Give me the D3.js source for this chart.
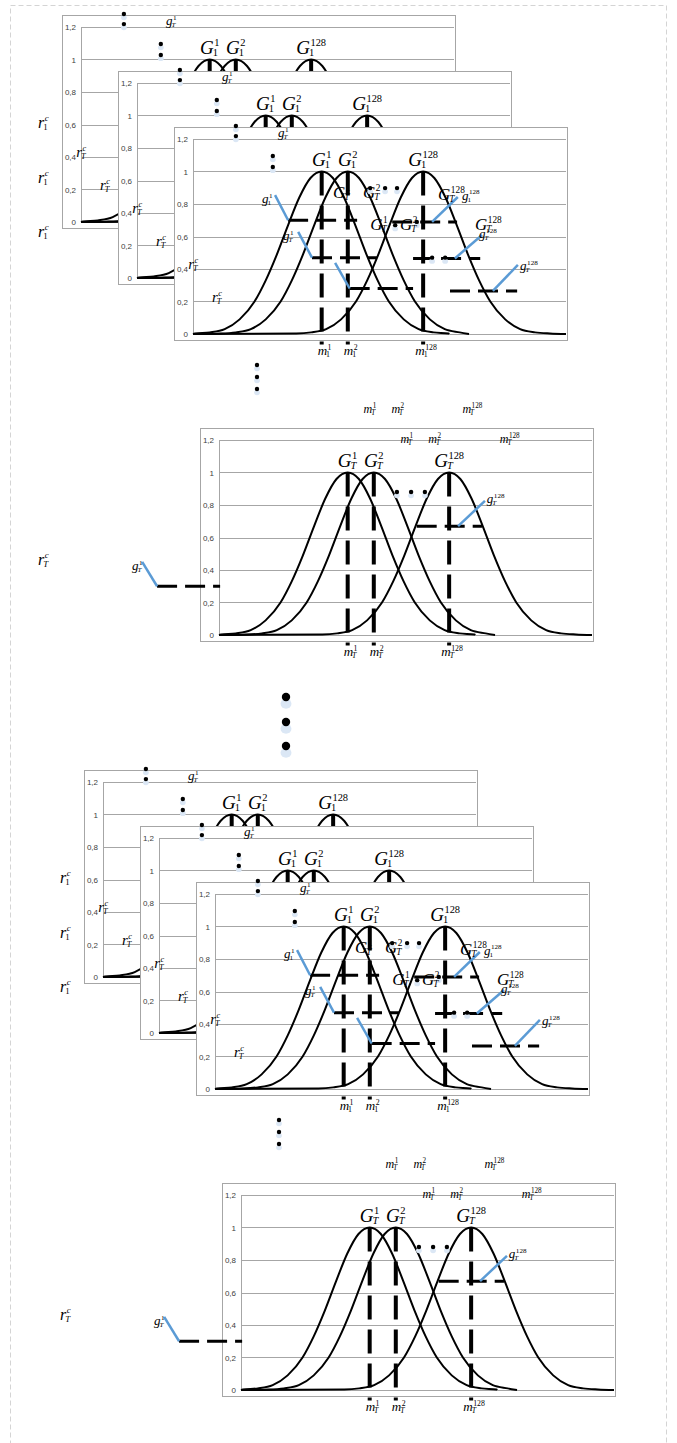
<!DOCTYPE html>
<meta charset="utf-8">
<script src="https://d3js.org/d3.v7.min.js"></script>
<body>
<div id="fig"></div>
</body>
<style>
body { margin: 0; background: #fff; }
.grid { stroke: #a6a6a6; stroke-width: 1; shape-rendering: crispEdges; }
.frame { fill: #fff; stroke: #a6a6a6; stroke-width: 1; shape-rendering: crispEdges; }
.tick-lbl { font-family: 'Liberation Sans', Arial, sans-serif; font-size: 8px; fill: #404040; text-anchor: end; }
.bell { fill: none; stroke: #000; stroke-width: 2; }
.vdash { stroke: #000; stroke-width: 4; stroke-dasharray: 24,10; }
.hdash { stroke: #000; stroke-width: 3; stroke-dasharray: 20,8; }
.ptr { stroke: #5b9bd5; stroke-width: 2.5; }
.math text { font-family: 'Liberation Serif', 'Times New Roman', serif; fill: #000; }
.glow { fill: #dbe7f5; }
</style>
<script>
// y axis of every panel
var yTicks = [0, 0.2, 0.4, 0.6, 0.8, 1, 1.2];
var yTickText = ["0", "0,2", "0,4", "0,6", "0,8", "1", "1,2"];

// the three gaussians G^1, G^2, G^128 (x in % of the axis width)
var gaussNames = ["1", "2", "128"];
var gaussMeans = [34.5, 41.5, 61.7];
var seriesEnd = [68.7, 74, 100];

// bell shape: offset from the mean -> height
var bellOffsets = [-34, -30, -26, -22, -18, -15, -12, -9, -6, -3, 0, 3, 6, 9, 12, 15, 18, 22, 26, 30, 34];
var bellValues  = [0.003, 0.01, 0.03, 0.09, 0.2, 0.33, 0.49, 0.67, 0.84, 0.96, 1, 0.96, 0.84, 0.67, 0.49, 0.33, 0.2, 0.09, 0.03, 0.01, 0.003];

// dashed g levels of the front panel: [from, to, level]
var rowsLeft  = [[25.5, 44, 0.70], [31.9, 49.3, 0.47], [42, 59, 0.28]];
var rowsRight = [[53.4, 70.8, 0.69], [59, 77, 0.465], [68.9, 86.9, 0.265]];
// blue pointers: [x1, y1, x2, y2]
var ptrLeft  = [[22, 0.855, 25.5, 0.70], [28.2, 0.628, 31.9, 0.47], [38.1, 0.437, 42, 0.28]];
var ptrRight = [[64.1, 0.69, 71, 0.843], [70.2, 0.465, 77.5, 0.609], [80.4, 0.265, 87.1, 0.425]];

// lone panel of step T
var soloRows = [[53, 70.5, 0.67], [-16.6, 0.3, 0.30]];
var soloPtr  = [[64.1, 0.67, 71.3, 0.825], [-16.6, 0.30, -20.6, 0.45]];

// annotations of the front panel (u = x %, v = y value)
var stackLabels = [
  {b: "G", sb: "T", sp: "1",   u: 37.5, v: 0.837, s: 17},
  {b: "G", sb: "T", sp: "2",   u: 45.6, v: 0.837, s: 17},
  {b: "G", sb: "T", sp: "1",   u: 47.5, v: 0.64,  s: 17},
  {b: "G", sb: "T", sp: "2",   u: 55.5, v: 0.64,  s: 17},
  {b: "G", sb: "T", sp: "128", u: 65.7, v: 0.825, s: 17},
  {b: "g", sb: "1", sp: "128", u: 72.1, v: 0.825, s: 13},
  {b: "G", sb: "T", sp: "128", u: 75.6, v: 0.64,  s: 17},
  {b: "g", sb: "T", sp: "128", u: 76.7, v: 0.59,  s: 13},
  {b: "g", sb: "T", sp: "128", u: 87.7, v: 0.394, s: 13},
  {b: "g", sb: "1", sp: "1",   u: 18.5, v: 0.806, s: 13},
  {b: "g", sb: "T", sp: "1",   u: 24.1, v: 0.578, s: 13},
  {b: "g", sb: "T", sp: "1",   u: 22.8, v: 1.212, s: 13},
  {b: "r", sb: "T", sp: "c",   u: -1.3, v: 0.40,  s: 15},
  {b: "r", sb: "T", sp: "c",   u: 5.1,  v: 0.197, s: 15}
];
var stackDots = [[11.5, 1.28], [11.5, 1.218], [21.4, 1.095], [21.4, 1.028],
  [47.5, 0.898], [51.5, 0.898], [54.7, 0.898], [54.2, 0.67], [60, 0.69],
  [64.1, 0.47], [67.6, 0.47]];

var soloLabels = [
  {b: "g", sb: "T", sp: "128", u: 71.8, v: 0.81, s: 13},
  {b: "g", sb: "T", sp: "1",   u: -23.3, v: 0.40, s: 13}
];
var soloDots = [[47.7, 0.88], [51.5, 0.88], [55.2, 0.88]];
var soloTopM = [[40.5, 48, 68], [50.4, 57.9, 78]];
var soloTopMv = [1.366, 1.18];

// layout
var W = 677, H = 1443, pw = 393, ph = 213;
var stackPos = [[62, 15], [118, 71], [174, 127]];
var soloPos = [200, 428];
var halves = [[0, 0], [22, 755]];

var svg = d3.select("#fig").append("svg").attr("width", W).attr("height", H);

svg.append("rect").attr("x", 10.5).attr("y", 5.5).attr("width", 656).attr("height", 1480)
  .attr("fill", "none").attr("stroke", "#d4d4d4").attr("stroke-dasharray", "5,3");

var x = d3.scaleLinear().domain([0, 100]).range([19, 392]);
var y = d3.scaleLinear().domain([0, 1.2]).range([207, 12]);

var bellLine = d3.line().x(function(d) { return x(d[0]); }).y(function(d) { return y(d[1]); })
  .curve(d3.curveMonotoneX);

function bellPoints(i) {
  var m = gaussMeans[i], pts = [[0, 0]];
  bellOffsets.forEach(function(o, k) {
    var u = m + o;
    if (u > 0 && u < seriesEnd[i]) pts.push([u, bellValues[k]]);
  });
  pts.push([seriesEnd[i], 0]);
  return pts;
}

function mathLabel(g, px, py, base, sb, sp, size, center, ratio) {
  var lg = g.append("g").attr("class", "math");
  var t = lg.append("text").attr("x", px).attr("y", py)
    .style("font-size", size + "px").style("font-style", "italic").text(base);
  var w = t.node().getComputedTextLength();
  var ss = size * (ratio || 0.55);
  if (sp) lg.append("text").attr("x", px + w + 0.5).attr("y", py - size * 0.42)
    .style("font-size", ss + "px").style("font-style", /\d/.test(sp) ? "normal" : "italic").text(sp);
  if (sb) lg.append("text").attr("x", px + w - 1).attr("y", py + size * 0.14)
    .style("font-size", ss + "px").style("font-style", /\d/.test(sb) ? "normal" : "italic").text(sb);
  if (center) {
    var bw = lg.node().getBBox().width;
    lg.attr("transform", "translate(" + (-bw / 2) + ",0)");
  }
  return lg;
}

function dot(g, px, py, r) {
  g.append("ellipse").attr("class", "glow").attr("cx", px).attr("cy", py + r * 1.6)
    .attr("rx", r * 1.3).attr("ry", r * 1.2);
  g.append("circle").attr("cx", px).attr("cy", py).attr("r", r).attr("fill", "#000");
}

function drawBase(g, step) {
  g.append("rect").attr("class", "frame").attr("x", 0.5).attr("y", 0.5).attr("width", pw).attr("height", ph);
  g.selectAll("line.grid").data(yTicks).join("line").attr("class", "grid")
    .attr("x1", x(0)).attr("x2", x(100))
    .attr("y1", function(d) { return Math.round(y(d)) + 0.5; })
    .attr("y2", function(d) { return Math.round(y(d)) + 0.5; });
  g.append("line").attr("class", "grid")
    .attr("x1", Math.round(x(0)) + 0.5).attr("x2", Math.round(x(0)) + 0.5)
    .attr("y1", y(0)).attr("y2", y(1.2));
  g.selectAll("text.tick-lbl").data(yTicks).join("text").attr("class", "tick-lbl")
    .attr("x", 14).attr("y", function(d) { return y(d) + 3; })
    .text(function(d, i) { return yTickText[i]; });

  gaussMeans.forEach(function(m, i) {
    g.append("path").attr("class", "bell").attr("d", bellLine(bellPoints(i)));
  });
  gaussMeans.forEach(function(m, i) {
    g.append("line").attr("class", "vdash")
      .attr("x1", x(m)).attr("x2", x(m)).attr("y1", y(1)).attr("y2", y(-0.065));
    mathLabel(g, x(m), y(1) - 6, "G", step, gaussNames[i], 19, true);
    mathLabel(g, x(m) + 3, y(-0.13), "m", step, gaussNames[i], 13, true, 0.6);
  });
}

function hRow(g, r) {
  g.append("line").attr("class", "hdash")
    .attr("x1", x(r[0])).attr("x2", x(r[1])).attr("y1", y(r[2])).attr("y2", y(r[2]));
}
function pointer(g, p) {
  g.append("line").attr("class", "ptr")
    .attr("x1", x(p[0])).attr("y1", y(p[1])).attr("x2", x(p[2])).attr("y2", y(p[3]));
}

function stackPanel(g) {
  drawBase(g, "1");
  rowsLeft.forEach(function(r) { hRow(g, r); });
  rowsRight.forEach(function(r) { hRow(g, r); });
  ptrLeft.forEach(function(p) { pointer(g, p); });
  ptrRight.forEach(function(p) { pointer(g, p); });
  stackDots.forEach(function(d) { dot(g, x(d[0]), y(d[1]), 2.2); });
  stackLabels.forEach(function(l) { mathLabel(g, x(l.u), y(l.v), l.b, l.sb, l.sp, l.s, false); });
}

function soloPanel(g) {
  drawBase(g, "T");
  soloRows.forEach(function(r) { hRow(g, r); });
  soloPtr.forEach(function(p) { pointer(g, p); });
  soloDots.forEach(function(d) { dot(g, x(d[0]), y(d[1]), 2.2); });
  soloLabels.forEach(function(l) { mathLabel(g, x(l.u), y(l.v), l.b, l.sb, l.sp, l.s, false); });
  soloTopM.forEach(function(row, k) {
    row.forEach(function(u, i) {
      mathLabel(g, x(u), y(soloTopMv[k]), "m", "T", gaussNames[i], 12, true, 0.6);
    });
  });
}

halves.forEach(function(h) {
  var half = svg.append("g").attr("transform", "translate(" + h[0] + "," + h[1] + ")");
  [128, 183, 237].forEach(function(by) { mathLabel(half, 38, by, "r", "1", "c", 16, false); });
  mathLabel(half, 38, 565, "r", "T", "c", 16, false);
  stackPos.forEach(function(p) {
    stackPanel(half.append("g").attr("transform", "translate(" + p[0] + "," + p[1] + ")"));
  });
  [365, 377, 389].forEach(function(dy) { dot(half, 257, dy, 2.2); });
  soloPanel(half.append("g").attr("transform", "translate(" + soloPos[0] + "," + soloPos[1] + ")"));
});

// ellipsis between the two halves
[697, 722, 746].forEach(function(dy) { dot(svg, 286, dy, 4.2); });
</script>
